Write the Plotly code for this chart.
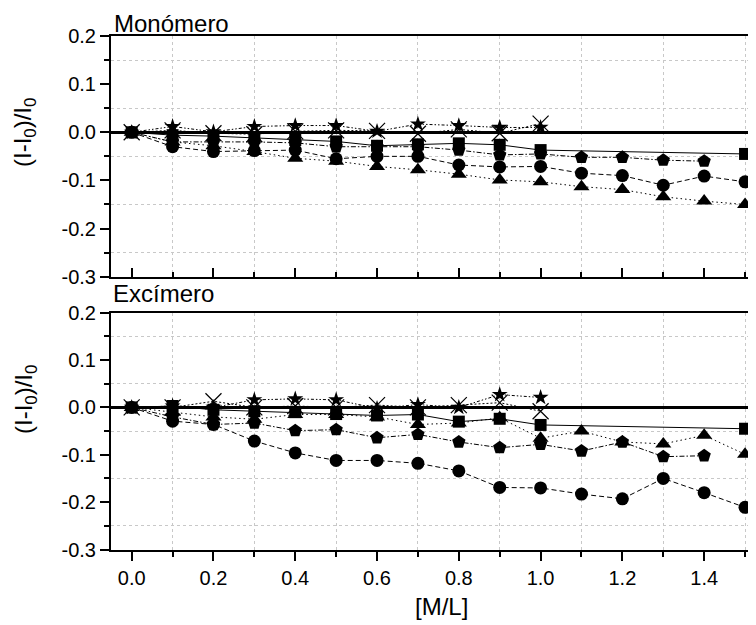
import plotly.graph_objects as go

# ---------------- data ----------------
x_full = [0.0, 0.1, 0.2, 0.3, 0.4, 0.5, 0.6, 0.7, 0.8, 0.9, 1.0, 1.1, 1.2, 1.3, 1.4, 1.5]
x_to14 = x_full[:15]
x_to10 = x_full[:11]
x_square = [0.0, 0.1, 0.2, 0.3, 0.4, 0.5, 0.6, 0.7, 0.8, 0.9, 1.0, 1.5]

# Monómero panel
mono_square = [0, -0.006, -0.008, -0.012, -0.016, -0.019, -0.028, -0.025, -0.023, -0.026, -0.037, -0.045]
mono_circle = [0, -0.030, -0.040, -0.038, -0.037, -0.055, -0.050, -0.050, -0.068, -0.072, -0.071,
               -0.085, -0.090, -0.110, -0.091, -0.103]
mono_triangle = [0, -0.020, -0.028, -0.040, -0.054, -0.060, -0.071, -0.078, -0.087, -0.099, -0.103,
                 -0.113, -0.119, -0.134, -0.143, -0.150]
mono_pentagon = [0, -0.020, -0.020, -0.020, -0.022, -0.030, -0.030, -0.030, -0.037, -0.047, -0.045,
                 -0.052, -0.052, -0.058, -0.060]
mono_star = [0, 0.012, 0.001, 0.012, 0.014, 0.014, 0.002, 0.017, 0.014, 0.010, 0.010]
mono_cross = [0, 0.004, -0.002, -0.004, 0.002, 0.004, 0.003, -0.003, 0.006, -0.002, 0.018]

# Excímero panel
exc_square = [0, 0.003, -0.005, -0.008, -0.010, -0.014, -0.017, -0.015, -0.030, -0.024, -0.037, -0.045]
exc_circle = [0, -0.029, -0.036, -0.071, -0.096, -0.112, -0.112, -0.118, -0.134, -0.169, -0.170,
              -0.183, -0.193, -0.150, -0.180, -0.211]
exc_triangle = [0, -0.010, -0.020, -0.025, -0.015, -0.015, -0.020, -0.036, -0.033, -0.022, -0.065,
                -0.050, -0.073, -0.077, -0.059, -0.099]
exc_pentagon = [0, -0.020, -0.036, -0.033, -0.049, -0.047, -0.064, -0.057, -0.073, -0.085, -0.078,
                -0.092, -0.073, -0.104, -0.102]
exc_star = [0, 0.003, 0.000, 0.016, 0.018, 0.016, -0.002, 0.006, 0.000, 0.027, 0.021]
exc_cross = [0, 0.000, 0.013, 0.000, 0.003, 0.000, 0.005, 0.000, 0.005, 0.010, -0.008]

x_tickvals = [0.0, 0.2, 0.4, 0.6, 0.8, 1.0, 1.2, 1.4]
x_ticktext = ["0.0", "0.2", "0.4", "0.6", "0.8", "1.0", "1.2", "1.4"]
y_tickvals = [-0.3, -0.2, -0.1, 0.0, 0.1, 0.2]
y_ticktext = ["-0.3", "-0.2", "-0.1", "0.0", "0.1", "0.2"]

panel_titles = ["Monómero", "Excímero"]
x_title = "[M/L]"
y_title = "(I-I<sub>0</sub>)/I<sub>0</sub>"

# ---------------- styles ----------------
W, H = 756, 625
OFF = 8  # page body margin in the screenshot
FONT = "Liberation Sans, Arial, sans-serif"


def px(v):
    return (v - OFF) / W


def py(v):
    return 1 - (v - OFF) / H


series_style = [
    # (marker symbol, size, dash)
    ("square", 12, "solid"),
    ("circle", 13, "5px,3px"),
    ("triangle-up", 14, "1.5px,3px"),
    ("pentagon", 14, "5px,2px,1.5px,2px"),
    ("star", 12, "3px,2px,1.5px,2px,1.5px,2px"),
    ("x-thin-open", 16, "2px,2px"),
]

panels = [
    ("x", "y", [(x_square, mono_square), (x_full, mono_circle), (x_full, mono_triangle),
                (x_to14, mono_pentagon), (x_to10, mono_star), (x_to10, mono_cross)]),
    ("x2", "y2", [(x_square, exc_square), (x_full, exc_circle), (x_full, exc_triangle),
                  (x_to14, exc_pentagon), (x_to10, exc_star), (x_to10, exc_cross)]),
]

fig = go.Figure()
for xa, ya, data in panels:
    for (xs, ys), (sym, size, dash) in zip(data, series_style):
        marker = dict(symbol=sym, size=size, color="black")
        if sym == "x-thin-open":
            marker["line"] = dict(color="black", width=1.2)
        fig.add_trace(go.Scatter(
            x=xs, y=ys, xaxis=xa, yaxis=ya, mode="lines+markers",
            line=dict(color="black", width=1, dash=dash),
            marker=marker, showlegend=False, cliponaxis=False,
        ))

# axis geometry (screenshot pixels): x=0 at 131.7, 0.1 per 40.89 px, left axis line at 111
x_left = px(111)
x_range = [-0.0506, (W + OFF - 131.7) / 408.9]
top_dom = [py(276.7), py(36)]
bot_dom = [py(549.5), py(312.7)]

common_x = dict(
    domain=[x_left, 1], range=x_range, showline=True, linecolor="black", linewidth=2,
    mirror=True, tickmode="array", tickvals=x_tickvals, ticktext=x_ticktext,
    ticklen=9, tickwidth=2, tickcolor="black", showgrid=False, zeroline=False, automargin=False,
    tickfont=dict(family=FONT, size=20, color="black"),
    minor=dict(tickmode="linear", tick0=0.1, dtick=0.2, ticklen=5, tickwidth=2, tickcolor="black",
               showgrid=True, gridcolor="#c8c8c8", griddash="dot", gridwidth=1),
)
common_y = dict(
    range=[-0.3, 0.2], showline=True, linecolor="black", linewidth=2, automargin=False,
    tickmode="array", tickvals=y_tickvals, ticktext=y_ticktext,
    ticks="outside", ticklen=9, tickwidth=2, tickcolor="black", showgrid=False,
    zeroline=True, zerolinecolor="black", zerolinewidth=2.5,
    tickfont=dict(family=FONT, size=20, color="black"),
    minor=dict(ticks="outside", tickmode="linear", tick0=0.05, dtick=0.1, ticklen=5, tickwidth=2,
               tickcolor="black", showgrid=True, gridcolor="#c8c8c8", griddash="dot", gridwidth=1),
)

xa1 = dict(common_x, anchor="y", ticks="inside", showticklabels=False)
xa1["minor"] = dict(common_x["minor"], ticks="inside")
xa2 = dict(common_x, anchor="y2", ticks="outside", showticklabels=True)
xa2["minor"] = dict(common_x["minor"], ticks="outside")

fig.update_layout(
    width=W, height=H, margin=dict(l=0, r=0, t=0, b=0, autoexpand=False),
    paper_bgcolor="white", plot_bgcolor="white",
    font=dict(family=FONT, color="black"),
    xaxis=xa1,
    yaxis=dict(common_y, domain=top_dom, anchor="x"),
    xaxis2=xa2,
    yaxis2=dict(common_y, domain=bot_dom, anchor="x2"),
    annotations=[
        dict(text=panel_titles[0], x=px(112), y=py(23), xref="paper", yref="paper",
             xanchor="left", yanchor="middle", showarrow=False, font=dict(size=24, family=FONT)),
        dict(text=panel_titles[1], x=px(110.5), y=py(293), xref="paper", yref="paper",
             xanchor="left", yanchor="middle", showarrow=False, font=dict(size=24, family=FONT)),
        dict(text=x_title, x=px(441.5), y=py(606), xref="paper", yref="paper",
             xanchor="center", yanchor="middle", showarrow=False, font=dict(size=24, family=FONT)),
        dict(text=y_title, x=px(25), y=py(133), xref="paper", yref="paper", textangle=-90,
             xanchor="center", yanchor="middle", showarrow=False, font=dict(size=24, family=FONT)),
        dict(text=y_title, x=px(25), y=py(400), xref="paper", yref="paper", textangle=-90,
             xanchor="center", yanchor="middle", showarrow=False, font=dict(size=24, family=FONT)),
    ],
)

fig.write_html("out.html")
